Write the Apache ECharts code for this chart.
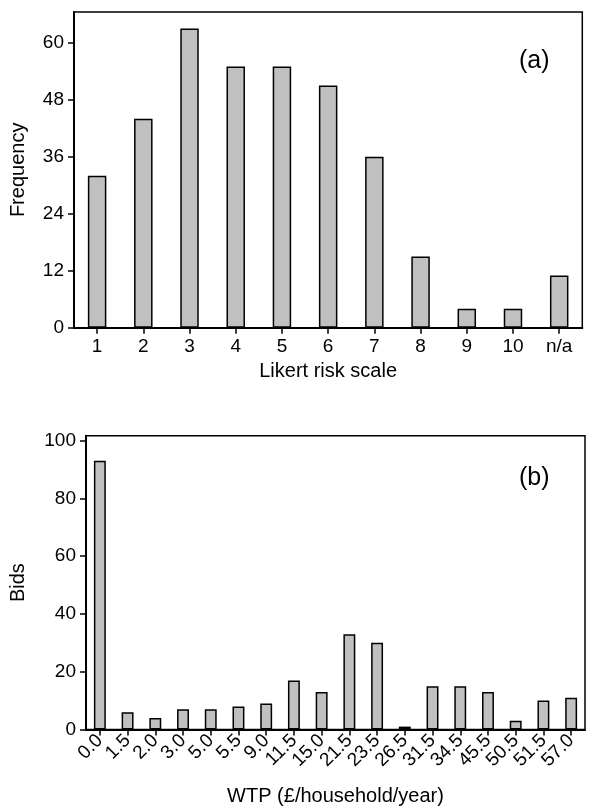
<!DOCTYPE html>
<html>
<head>
<meta charset="utf-8">
<script src="https://cdn.jsdelivr.net/npm/echarts@6/dist/echarts.min.js"></script>
<style>
html,body{margin:0;padding:0;background:#fff;}
#chart{width:600px;height:811px;}
</style>
</head>
<body>
<div id="chart"></div>
<script>
// Panel (a)
const likertCategories = ['1','2','3','4','5','6','7','8','9','10','n/a'];
const likertFrequency = [32, 44, 63, 55, 55, 51, 36, 15, 4, 4, 11];
const likertTicks = [0, 12, 24, 36, 48, 60];

// Panel (b)
const wtpCategories = ['0.0','1.5','2.0','3.0','5.0','5.5','9.0','11.5','15.0','21.5','23.5','26.5','31.5','34.5','45.5','50.5','51.5','57.0'];
const wtpBids = [93, 6, 4, 7, 7, 8, 9, 17, 13, 33, 30, 1, 15, 15, 13, 3, 10, 11];
const bidsTicks = [0, 20, 40, 60, 80, 100];

const FONT = 'Liberation Sans, Arial, sans-serif';
const chart = echarts.init(document.getElementById('chart'), null, {renderer: 'canvas'});

const lbl = {color: '#000', fontFamily: FONT, fontSize: 19};
const nm = {color: '#000', fontFamily: FONT, fontSize: 20};
const axLine = {show: true, lineStyle: {color: '#000', width: 2}};

chart.setOption({
  animation: false,
  backgroundColor: '#fff',
  grid: [
    {left: 68.3, right: 17.7, top: 12, height: 315.7, show: true, borderColor: '#000', borderWidth: 1.5, backgroundColor: 'transparent'},
    {left: 80.7, right: 15, top: 435.7, height: 293.8, show: true, borderColor: '#000', borderWidth: 1.5, backgroundColor: 'transparent'}
  ],
  xAxis: [
    {
      type: 'category', gridIndex: 0, data: likertCategories,
      axisLine: axLine,
      axisTick: {show: true, alignWithLabel: true, length: 6, lineStyle: {color: '#000', width: 1.5}},
      axisLabel: Object.assign({margin: 10}, lbl),
      name: 'Likert risk scale', nameLocation: 'middle', nameGap: 34,
      nameTextStyle: nm
    },
    {
      type: 'category', gridIndex: 1, data: wtpCategories,
      axisLine: axLine,
      axisTick: {show: true, alignWithLabel: true, length: 6, lineStyle: {color: '#000', width: 1.5}},
      axisLabel: Object.assign({margin: 8, rotate: 45, interval: 0}, lbl),
      name: 'WTP (£/household/year)', nameLocation: 'middle', nameGap: 57,
      nameTextStyle: nm
    }
  ],
  yAxis: [
    {
      type: 'value', gridIndex: 0, min: 0, max: 66.5,
      axisLine: axLine,
      axisTick: {show: true, length: 6, customValues: likertTicks, lineStyle: {color: '#000', width: 1.5}},
      axisLabel: Object.assign({margin: 10, customValues: likertTicks}, lbl),
      splitLine: {show: false},
      name: 'Frequency', nameLocation: 'middle', nameGap: 46,
      nameTextStyle: nm
    },
    {
      type: 'value', gridIndex: 1, min: 0, max: 101.7,
      axisLine: axLine,
      axisTick: {show: true, length: 6, customValues: bidsTicks, lineStyle: {color: '#000', width: 1.5}},
      axisLabel: Object.assign({margin: 10, customValues: bidsTicks}, lbl),
      splitLine: {show: false},
      name: 'Bids', nameLocation: 'middle', nameGap: 58,
      nameTextStyle: nm
    }
  ],
  graphic: [
    {type: 'text', left: 519, top: 49, style: {text: '(a)', font: '25px ' + FONT, fill: '#000'}},
    {type: 'text', left: 519, top: 466, style: {text: '(b)', font: '25px ' + FONT, fill: '#000'}}
  ],
  series: [
    {
      type: 'bar', xAxisIndex: 0, yAxisIndex: 0, data: likertFrequency, barWidth: '40%',
      itemStyle: {color: '#c0c0c0', borderColor: '#000', borderWidth: 1.5}
    },
    {
      type: 'bar', xAxisIndex: 1, yAxisIndex: 1, data: wtpBids, barWidth: '43%',
      itemStyle: {color: '#c0c0c0', borderColor: '#000', borderWidth: 1.5}
    }
  ]
});
</script>
</body>
</html>
